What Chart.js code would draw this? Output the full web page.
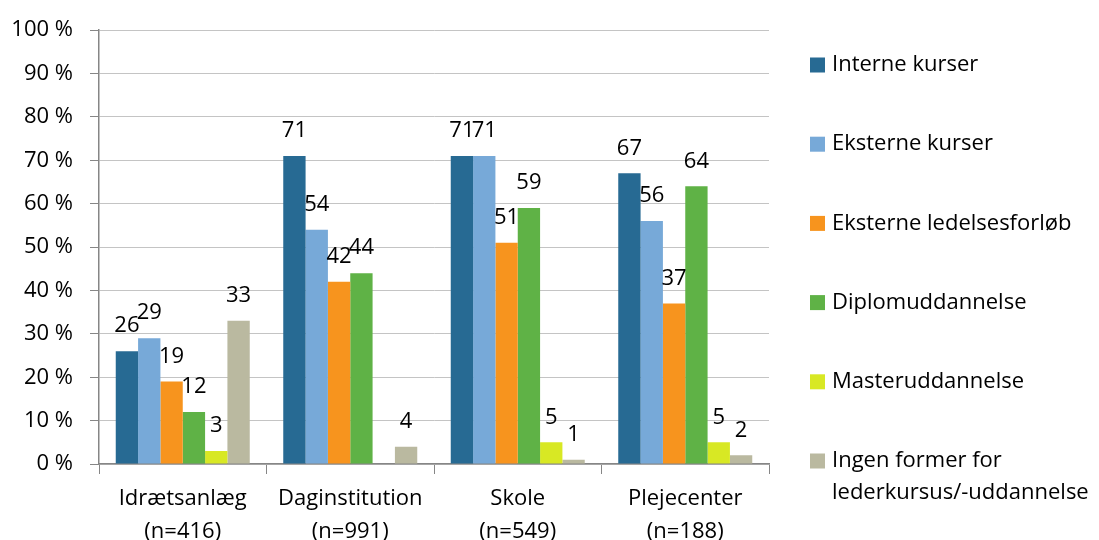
<!DOCTYPE html>
<html>
<head>
<meta charset="utf-8">
<script src="https://cdn.jsdelivr.net/npm/chart.js@4.4.1/dist/chart.umd.min.js"></script>
<style>
  html, body { margin: 0; padding: 0; background: #fff; }
  #wrap { width: 1099px; height: 540px; }
</style>
</head>
<body>
<div id="wrap"><canvas id="grafico"></canvas></div>
<script>
const kategorier = [["Idrætsanlæg", "(n=416)"], ["Daginstitution", "(n=991)"], ["Skole", "(n=549)"], ["Plejecenter", "(n=188)"]];
const serier = ["Interne kurser", "Eksterne kurser", "Eksterne ledelsesforløb", "Diplomuddannelse", "Masteruddannelse", ["Ingen former for", "lederkursus/-uddannelse"]];
const interne = [26, 71, 71, 67];
const eksterne = [29, 54, 71, 56];
const ledelsesforlob = [19, 42, 51, 37];
const diplom = [12, 44, 59, 64];
const master = [3, 0, 5, 5];
const ingen = [33, 4, 1, 2];
const yTicks = [0, 10, 20, 30, 40, 50, 60, 70, 80, 90, 100];

const farver = ["#276a93", "#77a9d8", "#f7941e", "#5fb246", "#d8e824", "#bab9a0"];
const FONT = "'Open Sans'";
const FSIZE = 22;

const vaerdier = [interne, eksterne, ledelsesforlob, diplom, master, ingen];
const datasets = vaerdier.map((v, i) => ({
    label: serier[i],
    data: v,
    backgroundColor: farver[i],
    borderWidth: 0,
    categoryPercentage: 0.8,
    barPercentage: 1.0
}));

// tal over søjlerne
const etiketter = {
    id: "etiketter",
    afterDatasetsDraw(chart) {
        const ctx = chart.ctx;
        ctx.save();
        ctx.font = `${FSIZE}px ${FONT}`;
        ctx.fillStyle = "#000";
        ctx.textAlign = "center";
        ctx.textBaseline = "middle";
        chart.data.datasets.forEach((ds, i) => {
            chart.getDatasetMeta(i).data.forEach((bar, j) => {
                if (ds.data[j] > 0) ctx.fillText(ds.data[j], bar.x, bar.y - 25);
            });
        });
        ctx.restore();
    }
};

// forklaring til højre
const forklaring = {
    id: "forklaring",
    afterDraw(chart) {
        const ctx = chart.ctx;
        ctx.save();
        ctx.font = `${FSIZE}px ${FONT}`;
        ctx.textBaseline = "middle";
        ctx.textAlign = "left";
        chart.data.datasets.forEach((ds, i) => {
            const y = 65 + i * 79.2;
            ctx.fillStyle = ds.backgroundColor;
            ctx.fillRect(810, y - 7.5, 15, 15);
            ctx.fillStyle = "#000";
            const linjer = Array.isArray(ds.label) ? ds.label : [ds.label];
            linjer.forEach((t, k) => ctx.fillText(t, 832, y + k * 32));
        });
        ctx.restore();
    }
};

new Chart(document.getElementById("grafico"), {
    type: "bar",
    data: { labels: kategorier, datasets: datasets },
    plugins: [etiketter, forklaring],
    options: {
        responsive: true,
        maintainAspectRatio: false,
        animation: false,
        layout: { padding: { top: 25, right: 330, bottom: 0, left: 0 } },
        plugins: { legend: { display: false }, tooltip: { enabled: false } },
        scales: {
            x: {
                grid: { drawOnChartArea: false, drawTicks: true, tickLength: 10, color: "#868686", offset: true },
                border: { color: "#868686", width: 1.5 },
                ticks: { color: "#000", font: { family: FONT, size: FSIZE, lineHeight: 1.5 }, padding: 8, maxRotation: 0 },
                afterFit: s => { s.height = 76; }
            },
            y: {
                min: 0,
                max: 100,
                afterBuildTicks: s => { s.ticks = yTicks.map(v => ({ value: v })); },
                grid: { color: "#c4c4c4", lineWidth: 1, drawTicks: true, tickLength: 9, tickColor: "#868686" },
                border: { color: "#868686", width: 1.5 },
                ticks: { color: "#000", font: { family: FONT, size: FSIZE }, padding: 17, callback: v => v + " %" },
                afterFit: s => { s.width = 99; }
            }
        }
    }
});
</script>
</body>
</html>
